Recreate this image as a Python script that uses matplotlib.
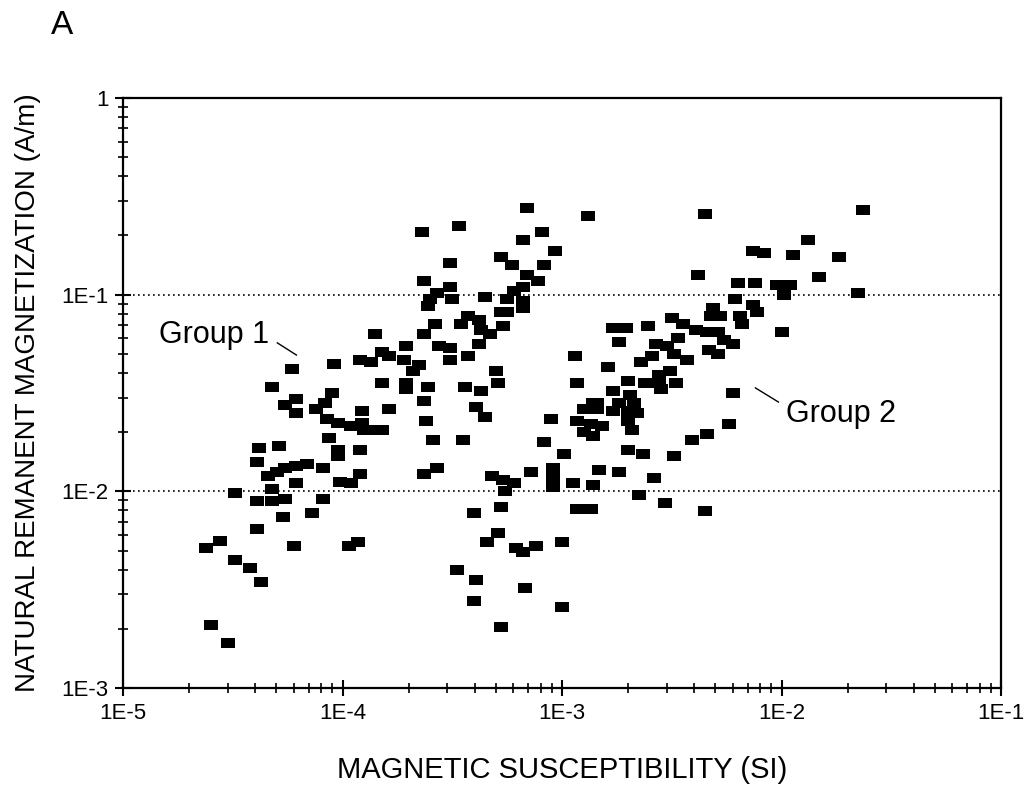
import numpy as np
import matplotlib
matplotlib.use("Agg")
import matplotlib.pyplot as plt
from matplotlib.ticker import LogLocator, NullFormatter

plt.rcParams["font.family"] = ["Liberation Sans", "DejaVu Sans"]

# log10 of magnetic susceptibility (SI) and of NRM (A/m), one entry per sample
log_k = [
    -3.85, -3.16, -3.64, -3.47, -3.09, -3.18, -3.03, -3.28, -3.51, -3.23, -3.08, -3.16,
    -3.63, -3.11, -3.51, -3.57, -3.22, -3.18, -3.35, -3.60, -3.50, -3.25, -3.18, -3.61,
    -3.18, -3.28, -3.25, -3.43, -3.38, -3.46, -3.58, -3.27, -3.37, -3.33, -3.63,
    -2.88, -2.35, -2.13, -2.38, -2.20, -2.12, -2.21, -2.31, -2.13, -2.11, -2.32, -2.28,
    -2.19, -2.18, -2.50, -2.45, -2.61, -2.77, -2.71, -2.39, -2.34, -2.29, -2.47, -2.26,
    -1.63, -1.88, -1.95, -1.74, -2.08, -1.83, -2.02, -1.96, -1.99, -1.65, -2.00,
    -4.23, -4.04, -3.92, -3.87, -4.32, -4.05, -4.21, -4.26, -4.08, -4.12, -4.21, -3.91,
    -4.07, -4.02, -3.96, -3.91, -3.90, -3.84, -4.06, -4.02, -4.02, -3.92, -4.38, -4.29,
    -4.39, -4.16, -4.21, -4.26, -4.30, -4.34, -4.09, -3.92, -4.01, -3.96, -4.21, -4.49,
    -4.32,
    -3.71, -3.82, -3.79, -3.72, -3.65, -3.68, -3.56, -3.51, -3.51, -3.43, -3.38, -3.30,
    -3.29, -3.44, -3.37, -3.61, -3.71, -3.71, -3.82, -3.63, -3.79, -3.39, -3.35, -3.62,
    -3.05, -3.82, -3.59, -3.45, -3.08, -3.63, -3.57, -3.32, -3.27, -3.22, -3.26, -3.14,
    -3.04, -3.04, -3.04,
    -2.94, -2.93, -2.90, -2.86, -2.93, -2.87, -2.90, -2.86, -2.99, -2.95, -2.86, -2.74,
    -2.57, -2.52, -2.22, -2.33, -2.29, -2.64, -2.59, -2.49, -2.43, -2.79, -2.51, -2.56,
    -2.70, -2.62, -2.56, -2.48, -2.55, -2.77, -2.69, -2.84, -2.74, -2.67, -2.84, -2.77,
    -2.70, -2.66, -2.70, -2.82, -2.68, -2.22, -2.24, -2.34, -2.41, -2.70, -2.63, -2.49,
    -2.83, -2.74, -2.58, -2.65,
    -4.39, -4.32, -4.26, -4.09, -4.27, -4.14, -4.39, -4.56, -4.62, -4.22, -3.97, -3.93,
    -4.49, -4.42, -4.37, -4.60, -4.52,
    -3.28, -3.40, -3.29, -3.34, -3.21, -3.18, -3.12, -3.48, -3.39, -3.17, -3.40, -3.28,
    -2.93, -2.87, -3.00, -3.00, -2.53, -2.35,
]
log_nrm = [
    -1.20, -0.56, -0.68, -0.65, -0.68, -0.72, -0.78, -0.81, -0.84, -0.85, -0.85, -0.90,
    -0.93, -0.93, -0.96, -0.99, -0.98, -0.96, -1.01, -1.02, -1.02, -1.02, -1.03, -1.06,
    -1.07, -1.09, -1.09, -1.11, -1.13, -1.15, -1.15, -1.16, -1.18, -1.20, -1.20,
    -0.60, -0.59, -0.78, -0.90, -0.94, -0.94, -1.02, -1.07, -1.05, -1.09, -1.11, -1.11,
    -1.11, -1.15, -1.12, -1.15, -1.16, -1.17, -1.17, -1.18, -1.19, -1.19, -1.22, -1.23,
    -0.57, -0.72, -0.80, -0.81, -0.79, -0.91, -0.95, -0.95, -1.00, -0.99, -1.19,
    -1.38, -1.35, -1.33, -1.34, -1.47, -1.50, -1.53, -1.56, -1.55, -1.58, -1.60, -1.59,
    -1.63, -1.65, -1.67, -1.65, -1.69, -1.69, -1.73, -1.79, -1.82, -1.79, -1.78, -1.77,
    -1.85, -1.86, -1.87, -1.88, -1.90, -1.92, -1.88, -1.91, -1.95, -1.96, -1.96, -2.01,
    -1.99,
    -1.26, -1.29, -1.31, -1.33, -1.36, -1.39, -1.26, -1.27, -1.33, -1.31, -1.25, -1.39,
    -1.45, -1.47, -1.49, -1.47, -1.45, -1.48, -1.45, -1.54, -1.58, -1.57, -1.62, -1.64,
    -1.63, -1.69, -1.74, -1.74, -1.75, -1.91, -1.88, -1.92, -1.94, -1.96, -2.00, -1.90,
    -1.88, -1.93, -1.98,
    -1.31, -1.45, -1.58, -1.55, -1.64, -1.66, -1.70, -1.72, -1.81, -1.96, -1.97, -1.24,
    -1.25, -1.26, -1.25, -1.28, -1.30, -1.34, -1.31, -1.30, -1.33, -1.37, -1.39, -1.41,
    -1.44, -1.45, -1.45, -1.45, -1.48, -1.49, -1.51, -1.55, -1.55, -1.55, -1.58, -1.59,
    -1.59, -1.60, -1.64, -1.67, -1.69, -1.50, -1.66, -1.71, -1.74, -1.79, -1.81, -1.82,
    -1.89, -1.90, -1.93, -2.02,
    -2.05, -2.05, -2.04, -2.04, -2.13, -2.11, -2.19, -2.25, -2.29, -2.28, -2.28, -2.26,
    -2.35, -2.39, -2.46, -2.68, -2.77,
    -2.08, -2.11, -2.21, -2.26, -2.29, -2.31, -2.28, -2.40, -2.45, -2.49, -2.56, -2.69,
    -2.09, -2.09, -2.26, -2.59, -2.06, -2.10,
]

x_ticks = [1e-5, 1e-4, 1e-3, 1e-2, 1e-1]
x_labels = ["1E-5", "1E-4", "1E-3", "1E-2", "1E-1"]
y_ticks = [1e-3, 1e-2, 1e-1, 1]
y_labels = ["1E-3", "1E-2", "1E-1", "1"]

k = 10 ** np.array(log_k)
nrm = 10 ** np.array(log_nrm)

fig = plt.figure(figsize=(10.32, 8.08), dpi=100)
ax = fig.add_axes([0.1192, 0.1485, 0.8508, 0.7302])

# flat rectangle marker, wider than tall
rect = [(-1.4, -1), (1.4, -1), (1.4, 1), (-1.4, 1), (-1.4, -1)]
ax.plot(k, nrm, linestyle="none", marker=rect, markersize=10.5,
        color="black", markeredgewidth=0)

ax.set_xscale("log")
ax.set_yscale("log")
ax.set_xlim(1e-5, 1e-1)
ax.set_ylim(1e-3, 1)

ax.set_xticks(x_ticks, x_labels)
ax.set_yticks(y_ticks, y_labels)
ax.xaxis.set_minor_locator(LogLocator(base=10, subs=np.arange(2, 10)))
ax.yaxis.set_minor_locator(LogLocator(base=10, subs=np.arange(2, 10)))
ax.xaxis.set_minor_formatter(NullFormatter())
ax.yaxis.set_minor_formatter(NullFormatter())
ax.tick_params(which="major", direction="inout", length=11, width=1.5,
               labelsize=16, pad=5)
ax.tick_params(which="minor", direction="inout", length=7, width=1.2)

for side in ax.spines.values():
    side.set_linewidth(1.6)

for level in [1e-2, 1e-1]:
    ax.axhline(level, color="black", linestyle=(0, (1, 2)), linewidth=1.2, zorder=0)

# group labels with leader lines
ax.text(10 ** -4.333, 10 ** -1.205, "Group 1", fontsize=22, ha="right", va="center")
ax.plot([10 ** -4.297, 10 ** -4.21], [10 ** -1.245, 10 ** -1.307],
        color="black", linewidth=1)
ax.text(10 ** -1.98, 10 ** -1.607, "Group 2", fontsize=22, ha="left", va="center")
ax.plot([10 ** -2.119, 10 ** -2.014], [10 ** -1.474, 10 ** -1.546],
        color="black", linewidth=1)

fig.text(0.5446, 0.047, "MAGNETIC SUSCEPTIBILITY (SI)", fontsize=21,
         ha="center", va="center")
fig.text(0.027, 0.5136, "NATURAL REMANENT MAGNETIZATION (A/m)", fontsize=20,
         rotation=90, ha="center", va="center")
fig.text(0.060, 0.968, "A", fontsize=24, ha="center", va="center")

fig.savefig("out.png", dpi=100)
